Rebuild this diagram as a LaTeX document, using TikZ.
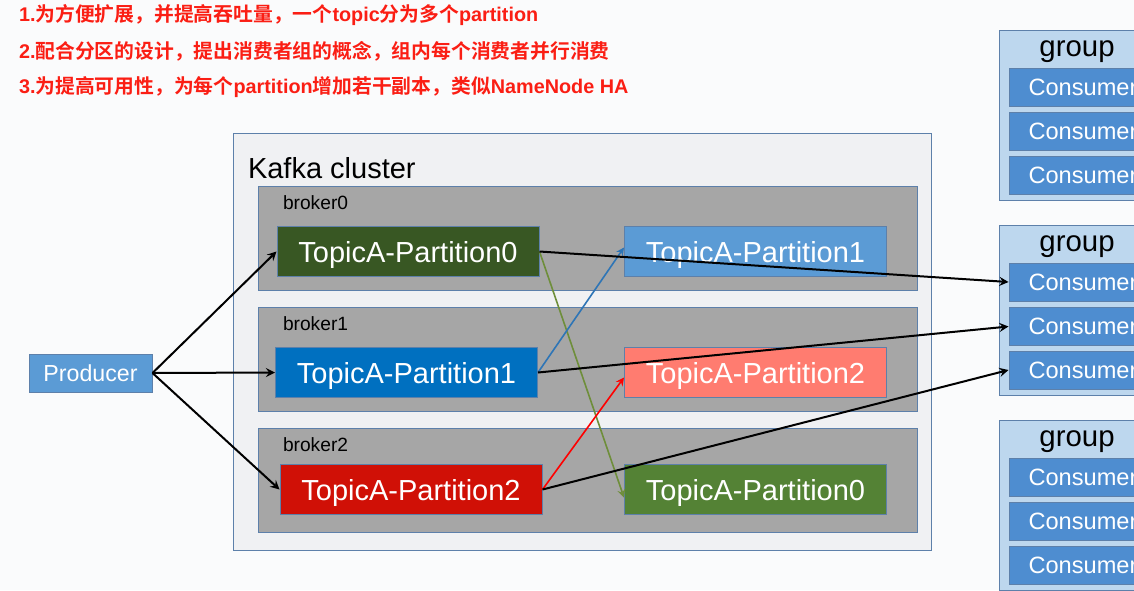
\documentclass[tikz,border=0pt]{standalone}
\usepackage{fontspec}
\setmainfont{Liberation Sans}
\newfontfamily\cjk{Noto Sans CJK SC}[BoldFont=* Bold]
\usetikzlibrary{positioning}

\definecolor{pagebg}{RGB}{250, 251, 252}
\definecolor{clusterbg}{RGB}{240, 241, 243}
\definecolor{edgeblue}{RGB}{93, 128, 170}
\definecolor{brokergray}{RGB}{166, 166, 166}
\definecolor{darkgreen}{RGB}{56, 87, 35}
\definecolor{midgreen}{RGB}{84, 130, 53}
\definecolor{lightblue}{RGB}{91, 155, 213}
\definecolor{strongblue}{RGB}{0, 112, 192}
\definecolor{salmon}{RGB}{255, 124, 112}
\definecolor{deepred}{RGB}{208, 16, 6}
\definecolor{groupblue}{RGB}{189, 215, 238}
\definecolor{consblue}{RGB}{78, 141, 208}
\definecolor{notered}{RGB}{250, 30, 20}
\definecolor{olive}{RGB}{110, 142, 58}
\definecolor{linkblue}{RGB}{46, 117, 182}

\newcommand{\hz}[1]{{\cjk\bfseries #1}}

\begin{document}
\begin{tikzpicture}[x=0.5pt, y=-0.5pt, >=stealth, line width=1pt,
        part/.style={draw=edgeblue, line width=0.5pt, minimum width=131pt, minimum height=25pt,
            inner sep=0pt, text depth=0pt, text=white, font=\fontsize{14.5}{16}\selectfont},
        brokerbox/.style={draw=edgeblue, fill=brokergray, line width=0.5pt, minimum width=329.5pt,
            minimum height=52pt, inner sep=0pt},
        groupbox/.style={draw=edgeblue, fill=groupblue, line width=0.5pt, minimum width=84pt,
            minimum height=85pt, inner sep=0pt},
        cons/.style={draw=edgeblue, fill=consblue, line width=0.5pt, minimum width=74pt,
            minimum height=19pt, inner sep=0pt, text=white, font=\fontsize{11.8}{13}\selectfont},
        note/.style={anchor=west, text=notered, inner sep=0pt, font=\fontsize{9.9}{11}\selectfont\bfseries}]

    \useasboundingbox (0,0) rectangle (1134,590);
    \clip (0,0) rectangle (1134,590);
    \fill[pagebg] (0,0) rectangle (1134,590);

    % --- uwagi na górze ---
    \node[note] (n1) at (18,15) {1.\hz{为方便扩展，并提高吞吐量，一个}topic\hz{分为多个}partition};
    \node[note] (n2) at (18,51) {2.\hz{配合分区的设计，提出消费者组的概念，组内每个消费者并行消费}};
    \node[note] (n3) at (18,87) {3.\hz{为提高可用性，为每个}partition\hz{增加若干副本，类似}NameNode HA};

    % --- klaster ---
    \node[draw=edgeblue, fill=clusterbg, line width=0.5pt, minimum width=349pt, minimum height=208.5pt,
        inner sep=0pt] (cluster) at (582,341.5) {};
    \node[anchor=west, inner sep=0pt, font=\fontsize{14.5}{16}\selectfont] (kafka) at (247,168) {Kafka cluster};

    % --- brokery ---
    \foreach \b/\y in {0/238, 1/359, 2/480} {
        \node[brokerbox] (broker\b) at (587.5,\y) {};
        \node[anchor=west, inner sep=0pt, font=\fontsize{9.6}{11}\selectfont] (blabel\b) at (282,\y-35) {broker\b};
    }

    % --- partycje ---
    \node[part, fill=darkgreen] (p0) at (408,251.5) {TopicA-Partition0};
    \node[part, fill=lightblue] (r1) at (755.5,251.5) {TopicA-Partition1};
    \node[part, fill=strongblue] (p1) at (406.5,372.5) {TopicA-Partition1};
    \node[part, fill=salmon] (r2) at (755.5,372.5) {TopicA-Partition2};
    \node[part, fill=deepred] (p2) at (411,489.5) {TopicA-Partition2};
    \node[part, fill=midgreen] (r0) at (755.5,489.5) {TopicA-Partition0};

    % --- producent ---
    \node[draw=edgeblue, fill=lightblue, line width=0.5pt, minimum width=61.5pt, minimum height=19pt,
        inner sep=0pt, text=white, font=\fontsize{11.6}{13}\selectfont] (prod) at (90.5,373) {Producer};

    % --- grupy konsumentów ---
    \foreach \g/\t in {1/30, 2/225, 3/420} {
        \node[groupbox] (group\g) at (1083,\t+85) {};
        \node[inner sep=0pt, font=\fontsize{14.7}{16}\selectfont] (glabel\g) at (1077,\t+22) {group};
        \node[cons] (c\g-1) at (1083,\t+57) {Consumer};
        \node[cons] (c\g-2) at (1083,\t+101.5) {Consumer};
        \node[cons] (c\g-3) at (1083,\t+145) {Consumer};
    }

    % --- replikacja ---
    \draw[->, olive, line width=0.8pt] (p0.east) -- ([yshift=-4pt]r0.west);
    \draw[->, linkblue, line width=0.8pt] (p1.east) -- ([yshift=2pt]r1.west);
    \draw[->, red, line width=0.8pt] (p2.east) -- ([yshift=-2.5pt]r2.west);

    % --- zapis i odczyt ---
    \foreach \p in {0,1,2} {
        \draw[->] (prod.east) -- (p\p.west);
    }
    \draw[->] (p0.east) -- (c2-1.west);
    \draw[->] (p1.east) -- (c2-2.west);
    \draw[->] (p2.east) -- (c2-3.west);

\end{tikzpicture}
\end{document}
